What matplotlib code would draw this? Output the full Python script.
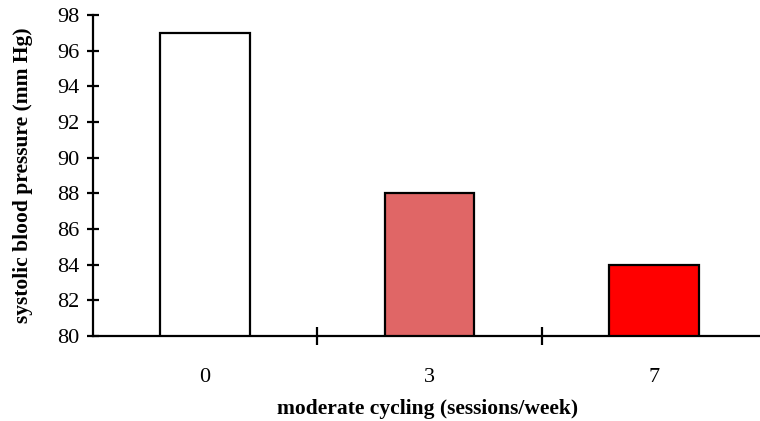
import matplotlib.pyplot as plt
from matplotlib.ticker import FixedLocator

sessions = ["0", "3", "7"]
pressure = [97, 88, 84]
colors = ["#ffffff", "#e06666", "#ff0000"]

plt.rcParams["font.family"] = ["Liberation Serif", "DejaVu Serif"]

fig = plt.figure(figsize=(7.6, 4.21), dpi=100)
ax = fig.add_axes([93 / 760, 1 - 336 / 421, (766 - 93) / 760, (336 - 15) / 421])

x = list(range(len(sessions)))
ax.bar(x, pressure, width=0.4, bottom=0, color=colors, edgecolor="black", linewidth=1.6, zorder=2)

ax.set_xlim(-0.5, len(sessions) - 0.5)
ax.set_ylim(80, 98)
ax.set_yticks(range(80, 99, 2))
ax.set_xticks(x)
ax.set_xticklabels(sessions)
ax.xaxis.set_minor_locator(FixedLocator([0.5, 1.5]))

for side in ("top", "right"):
    ax.spines[side].set_visible(False)
for side in ("left", "bottom"):
    ax.spines[side].set_linewidth(1.6)

ax.tick_params(axis="y", which="major", direction="inout", length=9, width=1.6, labelsize=16, pad=5)
ax.tick_params(axis="x", which="major", length=0, labelsize=16, pad=23)
ax.tick_params(axis="x", which="minor", direction="inout", length=13, width=1.6)

ax.set_ylabel("systolic blood pressure (mm Hg)", fontsize=15.5, fontweight="bold")
ax.set_xlabel("moderate cycling (sessions/week)", fontsize=15.5, fontweight="bold")
ax.xaxis.set_label_coords((428 - 93) / (766 - 93), -63 / (336 - 15))
ax.yaxis.set_label_coords((33 - 93) / (766 - 93), 0.5)

fig.savefig("out.png", dpi=100)
